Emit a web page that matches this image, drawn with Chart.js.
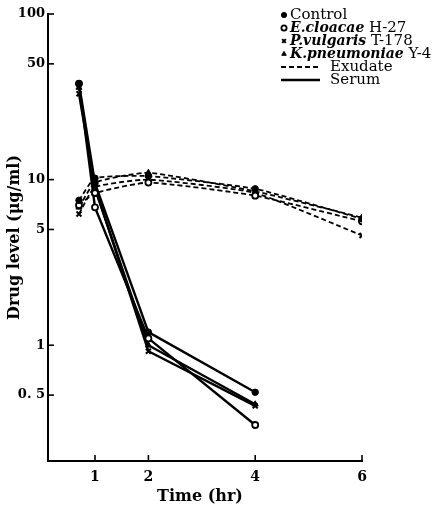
<!DOCTYPE html>
<html>
<head>
<meta charset="utf-8">
<script src="https://cdn.jsdelivr.net/npm/chart.js@4.4.1/dist/chart.umd.min.js"></script>
<style>
  html, body { margin: 0; padding: 0; background: #fff; }
  #wrap { width: 444px; height: 509px; position: relative; }
</style>
</head>
<body>
<div id="wrap"><canvas id="chart"></canvas></div>
<script>
// Drug level after dosing: exudate vs serum, for control and three infections
const timeExudate = [0.7, 1, 2, 4, 6];
const timeSerum = [0.7, 1, 2, 4];

const exudateControl = [7.5, 10.2, 10.5, 8.8, 5.8];
const exudateCloacae = [7.0, 8.3, 9.6, 8.0, 5.6];
const exudateVulgaris = [6.2, 9.0, 10.0, 8.3, 4.6];
const exudatePneumoniae = [6.8, 9.6, 11.0, 8.5, 5.9];

const serumControl = [38, 9.5, 1.2, 0.52];
const serumCloacae = [38, 6.8, 1.1, 0.33];
const serumVulgaris = [33, 9.0, 0.92, 0.43];
const serumPneumoniae = [36, 8.8, 1.0, 0.44];

const xTicks = [1, 2, 4, 6];
const yTicks = [100, 50, 10, 5, 1, 0.5];

const SERIF = '"DejaVu Serif", "Liberation Serif", serif';

const groups = [
    { name: 'Control', marker: 'dot' },
    { name: 'E.cloacae', suffix: ' H-27', marker: 'ring' },
    { name: 'P.vulgaris', suffix: ' T-178', marker: 'cross' },
    { name: 'K.pneumoniae', suffix: ' Y-4', marker: 'tri' },
];

function pts(xs, ys) {
    return ys.map((y, i) => ({ x: xs[i], y: y }));
}

function markerStyle(kind) {
    if (kind === 'dot') return { pointStyle: 'circle', pointRadius: 3.2, pointBackgroundColor: '#000', pointBorderColor: '#000', pointBorderWidth: 1 };
    if (kind === 'ring') return { pointStyle: 'circle', pointRadius: 3, pointBackgroundColor: '#fff', pointBorderColor: '#000', pointBorderWidth: 1.8 };
    if (kind === 'cross') return { pointStyle: 'crossRot', pointRadius: 3.5, pointBackgroundColor: '#000', pointBorderColor: '#000', pointBorderWidth: 2 };
    return { pointStyle: 'triangle', pointRadius: 3.5, pointBackgroundColor: '#000', pointBorderColor: '#000', pointBorderWidth: 1 };
}

const exudateSets = [exudateControl, exudateCloacae, exudateVulgaris, exudatePneumoniae];
const serumSets = [serumControl, serumCloacae, serumVulgaris, serumPneumoniae];

const datasets = [];
groups.forEach((g, i) => {
    datasets.push(Object.assign({
        label: g.name + ' exudate',
        data: pts(timeExudate, exudateSets[i]),
        borderColor: '#000',
        borderWidth: 1.8,
        borderDash: [5, 3],
        tension: 0.15,
        fill: false,
    }, markerStyle(g.marker)));
    datasets.push(Object.assign({
        label: g.name + ' serum',
        data: pts(timeSerum, serumSets[i]),
        borderColor: '#000',
        borderWidth: 2.4,
        tension: 0,
        fill: false,
    }, markerStyle(g.marker)));
});

// inward tick marks, axis titles and the legend box
const decorPlugin = {
    id: 'decor',
    afterDraw(chart) {
        const ctx = chart.ctx;
        const x = chart.scales.x, y = chart.scales.y;
        const a = chart.chartArea;
        ctx.save();
        ctx.strokeStyle = '#000';
        ctx.lineWidth = 1.6;
        xTicks.forEach(v => {
            const px = x.getPixelForValue(v);
            ctx.beginPath(); ctx.moveTo(px, a.bottom); ctx.lineTo(px, a.bottom - 6); ctx.stroke();
        });
        yTicks.forEach(v => {
            const py = y.getPixelForValue(v);
            ctx.beginPath(); ctx.moveTo(a.left, py); ctx.lineTo(a.left + 6, py); ctx.stroke();
        });

        ctx.fillStyle = '#000';
        ctx.font = 'bold 16px ' + SERIF;
        ctx.textAlign = 'center';
        ctx.textBaseline = 'middle';
        ctx.fillText('Time (hr)', 200, 497);

        ctx.save();
        ctx.translate(15, (a.top + a.bottom) / 2);
        ctx.rotate(-Math.PI / 2);
        ctx.font = 'bold 16px ' + SERIF;
        ctx.fillText('Drug level (μg/ml)', 0, 0);
        ctx.restore();

        // legend
        const lx = 284, tx = 290;
        const rows = [15, 28, 41, 54];
        ctx.textAlign = 'left';
        groups.forEach((g, i) => {
            const cy = rows[i];
            const m = markerStyle(g.marker);
            ctx.fillStyle = m.pointBackgroundColor;
            ctx.strokeStyle = '#000';
            ctx.lineWidth = m.pointBorderWidth;
            Chart.helpers.drawPoint(ctx, {
                pointStyle: m.pointStyle, radius: 2.6, borderWidth: m.pointBorderWidth
            }, lx, cy);
            ctx.fillStyle = '#000';
            if (g.suffix) {
                ctx.font = 'bold italic 14px ' + SERIF;
                ctx.fillText(g.name, tx, cy);
                const w = ctx.measureText(g.name).width;
                ctx.font = '15px ' + SERIF;
                ctx.fillText(g.suffix, tx + w, cy);
            } else {
                ctx.font = '15px ' + SERIF;
                ctx.fillText(g.name, tx, cy);
            }
        });
        ctx.strokeStyle = '#000';
        ctx.lineWidth = 1.8;
        ctx.setLineDash([5, 3]);
        ctx.beginPath(); ctx.moveTo(281, 67); ctx.lineTo(320, 67); ctx.stroke();
        ctx.setLineDash([]);
        ctx.lineWidth = 2.4;
        ctx.beginPath(); ctx.moveTo(281, 80); ctx.lineTo(320, 80); ctx.stroke();
        ctx.font = '15px ' + SERIF;
        ctx.fillText('Exudate', 330, 67);
        ctx.fillText('Serum', 330, 80);
        ctx.restore();
    }
};

new Chart(document.getElementById('chart'), {
    type: 'line',
    data: { datasets: datasets },
    options: {
        responsive: true,
        maintainAspectRatio: false,
        animation: false,
        layout: { padding: { left: 0, right: 82, top: 14, bottom: 0 } },
        plugins: { legend: { display: false }, tooltip: { enabled: false } },
        scales: {
            x: {
                type: 'linear',
                min: 0.12,
                max: 6,
                afterBuildTicks: s => { s.ticks = xTicks.map(v => ({ value: v })); },
                afterFit: s => { s.height = 48; },
                grid: { display: true, drawOnChartArea: false, drawTicks: false },
                border: { display: true, color: '#000', width: 2 },
                ticks: { color: '#000', padding: 8, font: { family: SERIF, size: 14, weight: 'bold' } },
            },
            y: {
                type: 'logarithmic',
                min: 0.2,
                max: 100,
                afterBuildTicks: s => { s.ticks = yTicks.map(v => ({ value: v })); },
                afterFit: s => { s.width = 48; },
                grid: { display: true, drawOnChartArea: false, drawTicks: false },
                border: { display: true, color: '#000', width: 2 },
                ticks: {
                    color: '#000', padding: 3,
                    font: { family: SERIF, size: 13, weight: 'bold' },
                    callback: v => v === 0.5 ? '0. 5' : String(v),
                },
            },
        },
    },
    plugins: [decorPlugin],
});
</script>
</body>
</html>
